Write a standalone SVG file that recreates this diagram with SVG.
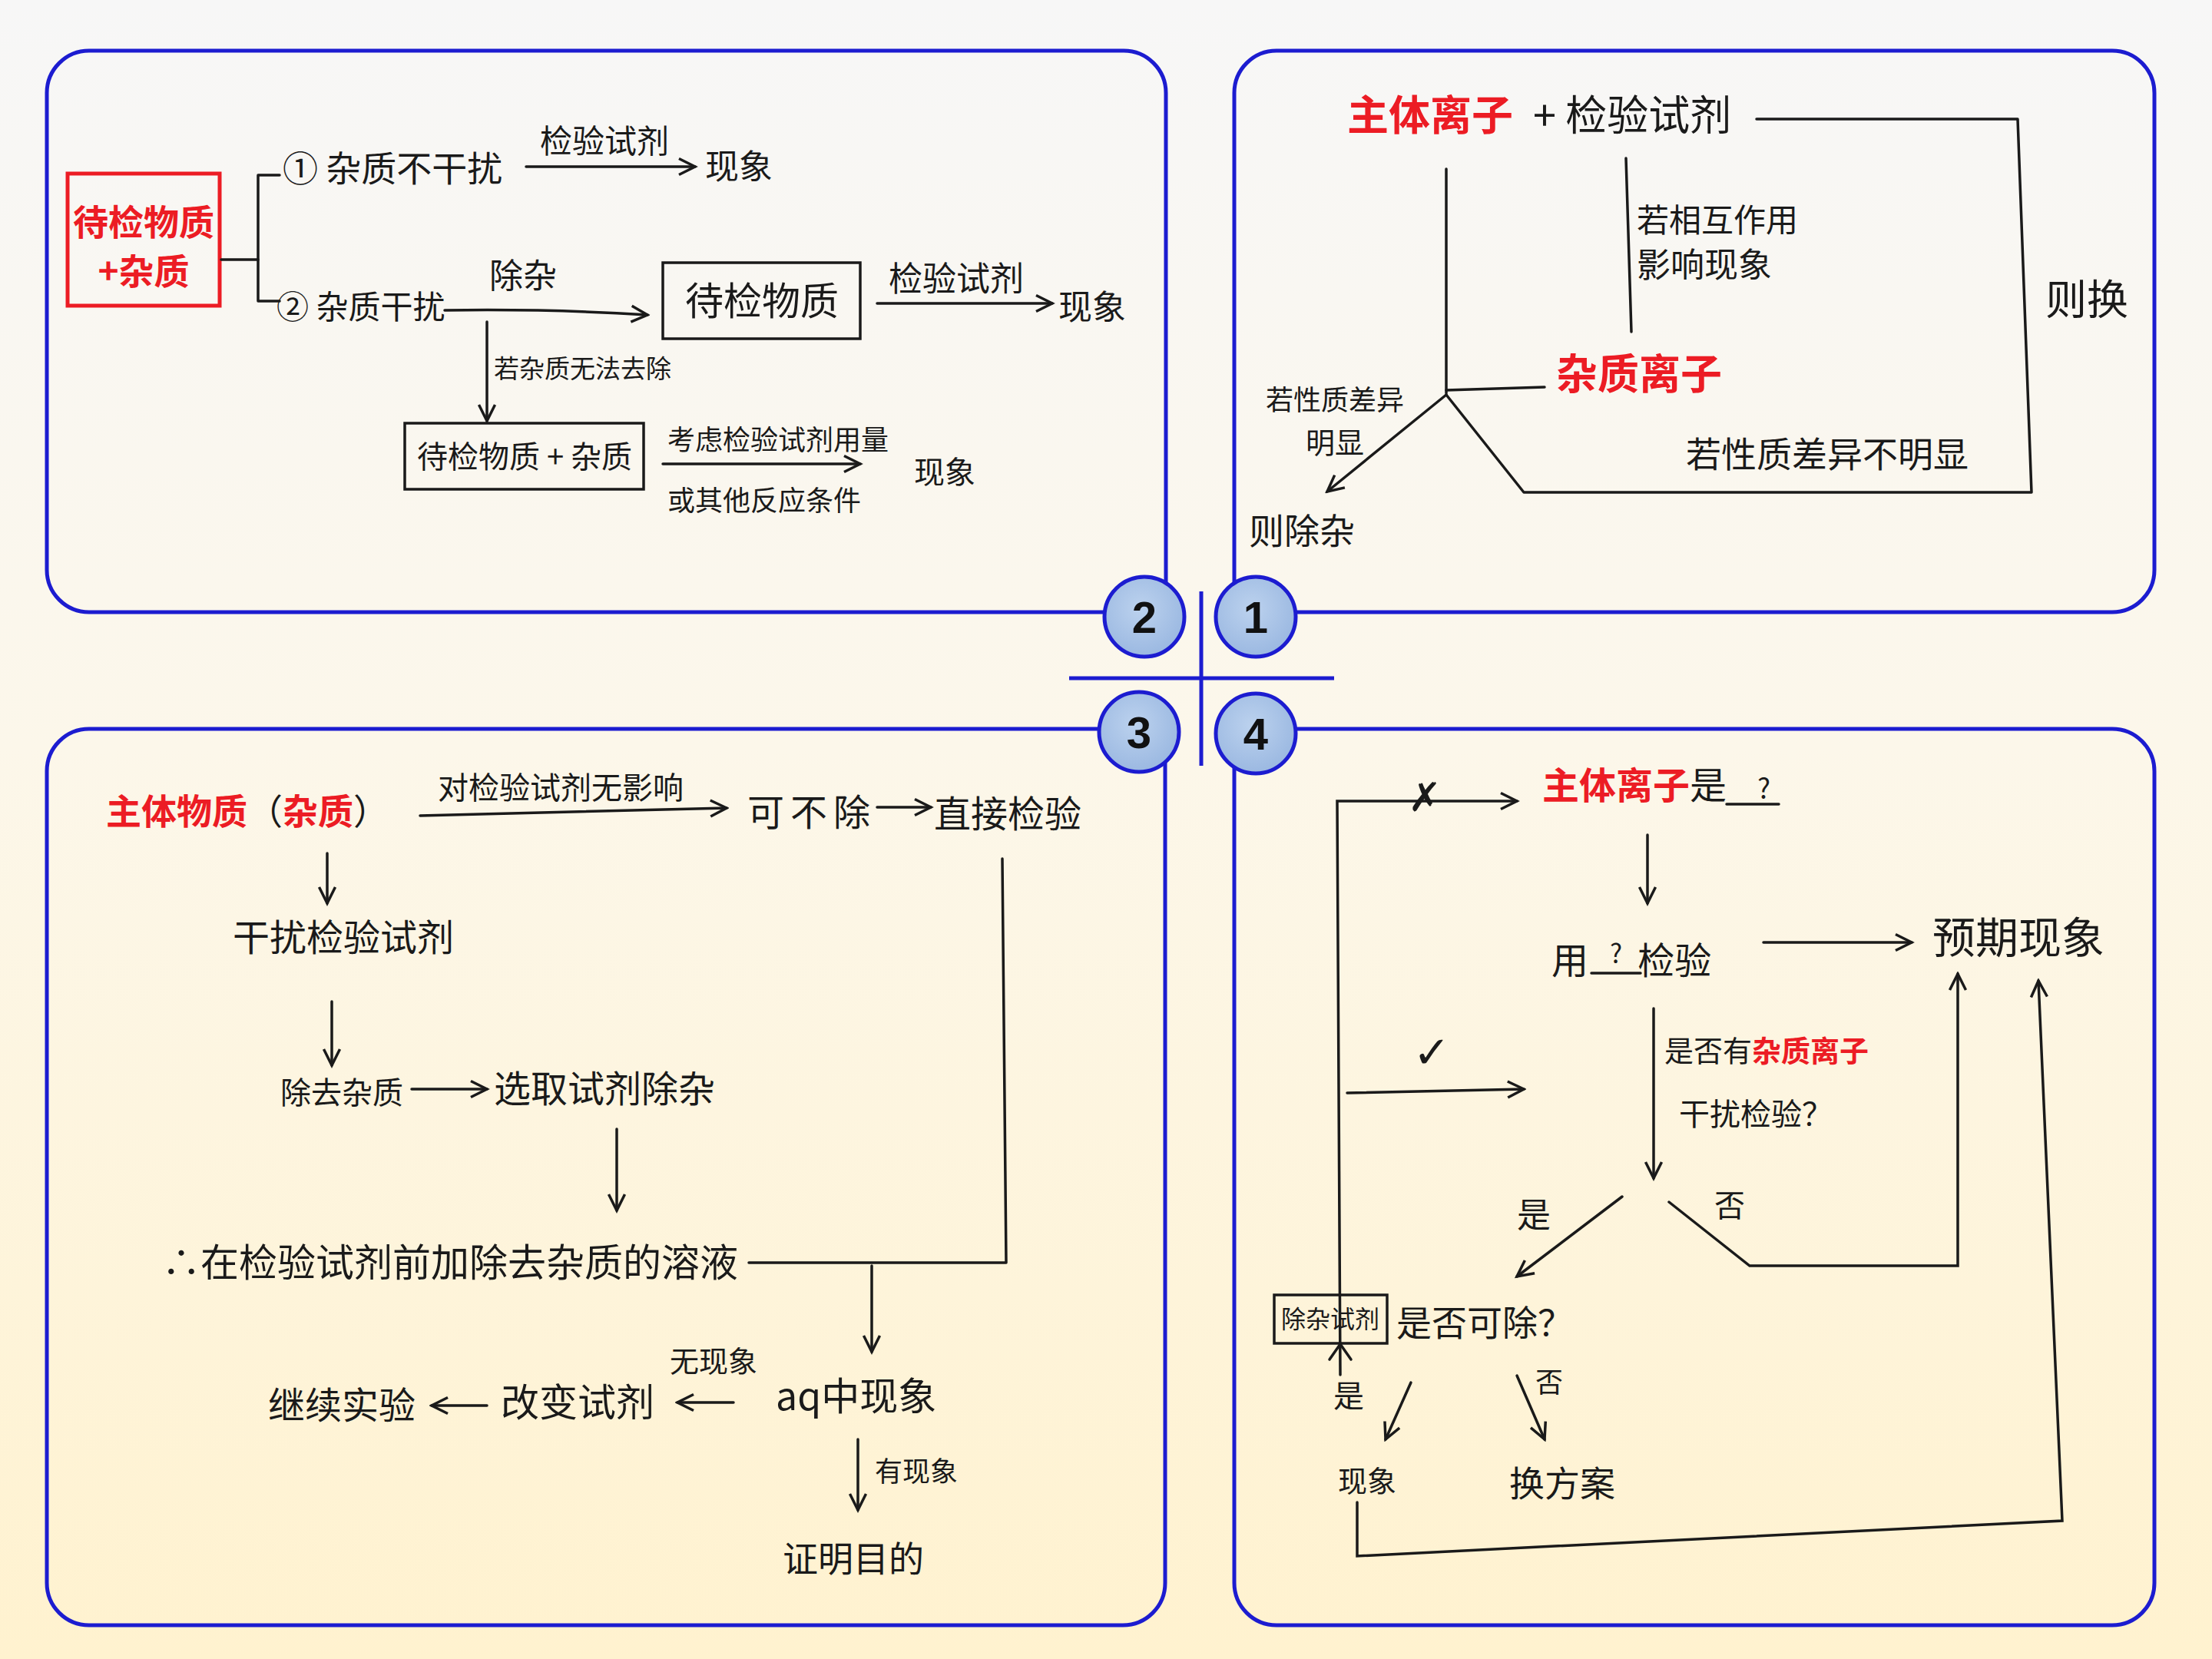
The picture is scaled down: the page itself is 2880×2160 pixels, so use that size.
<svg xmlns="http://www.w3.org/2000/svg" width="2880" height="2160" viewBox="0 0 2880 2160">
<defs>
<linearGradient id="bg" x1="0" y1="0" x2="0" y2="1">
<stop offset="0" stop-color="#f7f7f7"/>
<stop offset="0.45" stop-color="#fcf7ea"/>
<stop offset="1" stop-color="#fff2cf"/>
</linearGradient>
<radialGradient id="cf" cx="0.45" cy="0.4" r="0.65">
<stop offset="0" stop-color="#bcd2ee"/>
<stop offset="1" stop-color="#98b6e0"/>
</radialGradient>
<marker id="ah" viewBox="0 0 24 24" refX="21" refY="12" markerWidth="28" markerHeight="28" markerUnits="userSpaceOnUse" orient="auto">
<path d="M3,3 L21,12 L3,21" fill="none" stroke="#1a1a1a" stroke-width="3"/>
</marker>
<style>
.t{font-family:"Noto Sans CJK SC","Noto Sans CJK TC",sans-serif;fill:#1a1a1a;}
.r{fill:#ec1c24;font-weight:bold;}
.k{fill:#1a1a1a;font-weight:normal;}
.ln{stroke:#1a1a1a;stroke-width:3.5;fill:none;stroke-linecap:round;stroke-linejoin:round;}
.ar{stroke:#1a1a1a;stroke-width:3.5;fill:none;stroke-linecap:round;marker-end:url(#ah);}
.pn{stroke:#1c1cd0;stroke-width:5;fill:none;}
.cc{fill:url(#cf);stroke:#1c1cd0;stroke-width:5;}
.num{font-family:"Liberation Sans",Arial,sans-serif;font-weight:bold;font-size:58px;fill:#111;text-anchor:middle;}
.bx{fill:none;stroke:#1a1a1a;stroke-width:3.5;}
</style>
</defs>
<rect x="0" y="0" width="2880" height="2160" fill="url(#bg)"/>

<g id="frames">
<path class="pn" d="M116,66 H1463 A55,55 0 0 1 1518,121 V797 H116 A55,55 0 0 1 61,742 V121 A55,55 0 0 1 116,66 Z"/>
<path class="pn" d="M1662,66 H2750 A55,55 0 0 1 2805,121 V742 A55,55 0 0 1 2750,797 H1607 V121 A55,55 0 0 1 1662,66 Z"/>
<path class="pn" d="M116,949 H1517 V2061 A55,55 0 0 1 1462,2116 H116 A55,55 0 0 1 61,2061 V1004 A55,55 0 0 1 116,949 Z"/>
<path class="pn" d="M1607,949 H2750 A55,55 0 0 1 2805,1004 V2061 A55,55 0 0 1 2750,2116 H1662 A55,55 0 0 1 1607,2061 Z"/>
<line class="pn" x1="1564" y1="770" x2="1564" y2="997"/>
<line class="pn" x1="1392" y1="883" x2="1737" y2="883"/>
</g>

<g id="badge-2"><circle class="cc" cx="1490" cy="803" r="52"/><text class="num" x="1490" y="824">2</text></g>
<g id="badge-1"><circle class="cc" cx="1635" cy="803" r="52"/><text class="num" x="1635" y="824">1</text></g>
<g id="badge-3"><circle class="cc" cx="1483" cy="953" r="52"/><text class="num" x="1483" y="974">3</text></g>
<g id="badge-4"><circle class="cc" cx="1635" cy="955" r="52"/><text class="num" x="1635" y="976">4</text></g>

<!-- Panel 2 -->
<g id="p2-start">
<rect x="88" y="226" width="198" height="172" fill="none" stroke="#ec1c24" stroke-width="5"/>
<text class="t r" x="187" y="306" font-size="46" text-anchor="middle">待检物质</text>
<text class="t r" x="187" y="370" font-size="46" text-anchor="middle">+杂质</text>
</g>
<g id="p2-case1"><text class="t" x="368" y="236" font-size="46">① 杂质不干扰</text></g>
<g id="p2-case1-result"><text class="t" x="918" y="233" font-size="44">现象</text></g>
<g id="p2-case2"><text class="t" x="360" y="415" font-size="42">② 杂质干扰</text></g>
<g id="p2-box1">
<rect class="bx" x="863" y="342" width="257" height="99"/>
<text class="t" x="992" y="410" font-size="50" text-anchor="middle">待检物质</text>
</g>
<g id="p2-case2-result"><text class="t" x="1378" y="416" font-size="44">现象</text></g>
<g id="p2-box2">
<rect class="bx" x="527" y="551" width="311" height="86"/>
<text class="t" x="683" y="609" font-size="40" text-anchor="middle">待检物质 + 杂质</text>
</g>
<g id="p2-box2-result"><text class="t" x="1190" y="629" font-size="40">现象</text></g>

<!-- Panel 1 -->
<g id="p1-top">
<text class="t" x="1754" y="170" font-size="54"><tspan class="r">主体离子</tspan><tspan class="k" dx="14"> + </tspan><tspan class="k">检验试剂</tspan></text>
</g>
<g id="p1-impurity"><text class="t r" x="2026" y="507" font-size="54">杂质离子</text></g>
<g id="p1-remove"><text class="t" x="1626" y="708" font-size="46">则除杂</text></g>
<g id="p1-swap"><text class="t" x="2663" y="410" font-size="54">则换</text></g>

<!-- Panel 3 -->
<g id="p3-start"><text class="t" x="138" y="1073" font-size="46"><tspan class="r">主体物质</tspan><tspan class="k">（</tspan><tspan class="r">杂质</tspan><tspan class="k">）</tspan></text></g>
<g id="p3-keep"><text class="t" x="973" y="1075" font-size="48" letter-spacing="8">可不除</text></g>
<g id="p3-direct"><text class="t" x="1216" y="1077" font-size="48">直接检验</text></g>
<g id="p3-interfere"><text class="t" x="303" y="1238" font-size="48">干扰检验试剂</text></g>
<g id="p3-remove"><text class="t" x="365" y="1437" font-size="40">除去杂质</text></g>
<g id="p3-choose"><text class="t" x="643" y="1435" font-size="48">选取试剂除杂</text></g>
<g id="p3-therefore"><text class="t" x="211" y="1662" font-size="50">∴在检验试剂前加除去杂质的溶液</text></g>
<g id="p3-aq"><text class="t" x="1010" y="1836" font-size="50">aq中现象</text></g>
<g id="p3-change"><text class="t" x="652" y="1844" font-size="50">改变试剂</text></g>
<g id="p3-continue"><text class="t" x="349" y="1847" font-size="48">继续实验</text></g>
<g id="p3-prove"><text class="t" x="1019" y="2046" font-size="46">证明目的</text></g>

<!-- Panel 4 -->
<g id="p4-question"><text class="t" x="2008" y="1040" font-size="48"><tspan class="r">主体离子</tspan><tspan class="k">是</tspan><tspan class="k" dx="40" font-size="36">?</tspan></text>
<line class="ln" x1="2248" y1="1047" x2="2316" y2="1047"/></g>
<g id="p4-test"><text class="t" x="2020" y="1268" font-size="48">用<tspan dx="28" font-size="34" dy="-14">?</tspan><tspan dx="20" dy="14">检验</tspan></text>
<line class="ln" x1="2072" y1="1267" x2="2136" y2="1267"/></g>
<g id="p4-expected"><text class="t" x="2516" y="1241" font-size="56">预期现象</text></g>
<g id="p4-check"><text class="t" x="2167" y="1382" font-size="38">是否有<tspan class="r">杂质离子</tspan></text>
<text class="t" x="2186" y="1465" font-size="40">干扰检验？</text></g>
<g id="p4-reagent-box">
<rect class="bx" x="1659" y="1686" width="147" height="63"/>
<text class="t" x="1732" y="1729" font-size="32" text-anchor="middle">除杂试剂</text>
</g>
<g id="p4-removable"><text class="t" x="1818" y="1739" font-size="46">是否可除？</text></g>
<g id="p4-phen"><text class="t" x="1742" y="1942" font-size="38">现象</text></g>
<g id="p4-alt"><text class="t" x="1965" y="1948" font-size="46">换方案</text></g>

<g id="connectors">
<!-- panel 2 -->
<line class="ln" x1="288" y1="338" x2="336" y2="338"/>
<path class="ln" d="M364,228 H336 V392 H364"/>
<line class="ar" x1="685" y1="217" x2="905" y2="217"/>
<text class="t" x="703" y="199" font-size="42">检验试剂</text>
<path class="ar" d="M579,404 Q720,402 843,410"/>
<text class="t" x="637" y="375" font-size="44">除杂</text>
<line class="ar" x1="1142" y1="395" x2="1370" y2="395"/>
<text class="t" x="1157" y="379" font-size="44">检验试剂</text>
<line class="ar" x1="634" y1="419" x2="634" y2="548"/>
<text class="t" x="643" y="492" font-size="33">若杂质无法去除</text>
<line class="ar" x1="863" y1="604" x2="1120" y2="604"/>
<text class="t" x="869" y="586" font-size="36">考虑检验试剂用量</text>
<text class="t" x="869" y="665" font-size="36">或其他反应条件</text>

<!-- panel 1 -->
<path class="ln" stroke-width="4" d="M2287,155 H2627 L2645,641 H1984 L1883,514"/>
<line class="ln" x1="1883" y1="220" x2="1883" y2="512"/>
<line class="ln" x1="2117" y1="206" x2="2124" y2="432"/>
<text class="t" x="2131" y="302" font-size="42">若相互作用</text>
<text class="t" x="2131" y="361" font-size="44">影响现象</text>
<line class="ln" stroke-width="4" x1="1883" y1="508" x2="2011" y2="504"/>
<line class="ar" stroke-width="6" x1="1883" y1="514" x2="1728" y2="640"/>
<text class="t" x="1648" y="534" font-size="36">若性质差异</text>
<text class="t" x="1700" y="590" font-size="38">明显</text>
<text class="t" x="2195" y="608" font-size="46">若性质差异不明显</text>

<!-- panel 3 -->
<line class="ar" x1="547" y1="1062" x2="946" y2="1052"/>
<text class="t" x="570" y="1040" font-size="40">对检验试剂无影响</text>
<line class="ar" x1="1142" y1="1051" x2="1212" y2="1051"/>
<path class="ln" d="M1305,1118 L1310,1644 H975"/>
<line class="ar" x1="426" y1="1111" x2="426" y2="1176"/>
<line class="ar" x1="432" y1="1304" x2="432" y2="1387"/>
<line class="ar" x1="536" y1="1418" x2="634" y2="1418"/>
<line class="ar" x1="803" y1="1470" x2="803" y2="1576"/>
<line class="ar" x1="1135" y1="1648" x2="1135" y2="1760"/>
<line class="ar" x1="955" y1="1826" x2="882" y2="1826"/>
<text class="t" x="872" y="1786" font-size="38">无现象</text>
<line class="ar" x1="634" y1="1830" x2="562" y2="1830"/>
<line class="ar" x1="1117" y1="1874" x2="1117" y2="1966"/>
<text class="t" x="1139" y="1929" font-size="36">有现象</text>

<!-- panel 4 -->
<path class="ar" d="M1745,1790 L1741,1043 L1975,1043"/>
<path class="ln" d="M1731,1770 L1745,1750 L1759,1770"/>
<text x="1855" y="1056" font-size="52" text-anchor="middle" font-family="DejaVu Sans,sans-serif" fill="#1a1a1a">✗</text>
<line class="ar" x1="2145" y1="1087" x2="2145" y2="1176"/>
<line class="ar" x1="2296" y1="1227" x2="2489" y2="1227"/>
<text x="1864" y="1390" font-size="58" text-anchor="middle" font-family="DejaVu Sans,sans-serif" fill="#1a1a1a">✓</text>
<line class="ar" x1="1754" y1="1423" x2="1984" y2="1418"/>
<line class="ar" x1="2153" y1="1313" x2="2153" y2="1534"/>
<path class="ar" d="M2173,1565 L2278,1648 H2549 V1268"/>
<text class="t" x="2232" y="1584" font-size="40">否</text>
<line class="ar" x1="2112" y1="1558" x2="1975" y2="1662"/>
<text class="t" x="1975" y="1598" font-size="44">是</text>
<path class="ar" d="M1767,1956 L1767,2026 L2685,1980 L2654,1277"/>
<line class="ar" x1="1837" y1="1800" x2="1804" y2="1874"/>
<text class="t" x="1736" y="1832" font-size="40">是</text>
<line class="ar" x1="1975" y1="1791" x2="2011" y2="1874"/>
<text class="t" x="1999" y="1813" font-size="36">否</text>
</g>
</svg>
